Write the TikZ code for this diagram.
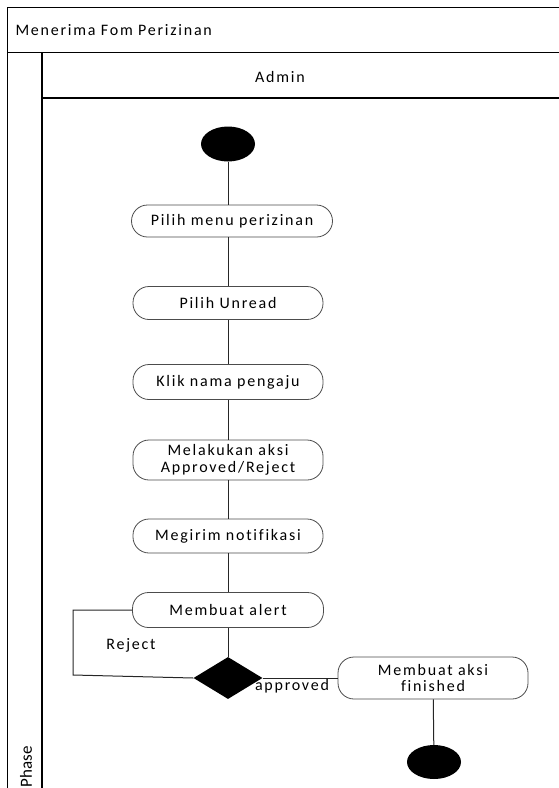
\documentclass[tikz,border=0pt]{standalone}
\usepackage{fontspec}
\setmainfont{Carlito}[LetterSpace=11,Ligatures={NoCommon,NoContextual}]
\usetikzlibrary{shapes.geometric}

\begin{document}
\begin{tikzpicture}
  [
    x=1pt, y=-1pt,
    lane/.style={line width=1.8pt,black},
    txt/.style={font=\fontsize{16}{16.5}\selectfont},
    act/.style={txt,draw=black!70,thick,fill=white,rounded corners=16pt,
      minimum width=190pt,minimum height=34pt,align=center,inner sep=2pt},
    dot/.style={ellipse,fill=black,minimum width=54pt,minimum height=35pt,inner sep=0pt},
    flow/.style={line width=1pt,black!85}
  ]
  \useasboundingbox (0,0) rectangle (559,788);
  % swimlane frame
  \draw [lane] (7.5,800) -- (7.5,7.5) -- (565,7.5);
  \draw [lane] (7.5,52.5) -- (565,52.5);
  \draw [lane] (42,52.5) -- (42,800);
  \draw [lane] (42,98) -- (565,98);
  \node [txt,anchor=west] (title) at (12,30) {Menerima Fom Perizinan};
  \node [txt] (admin) at (280,77) {Admin};
  \node [rotate=90,inner sep=1pt,font=\fontsize{17}{17}\selectfont\addfontfeature{LetterSpace=0}] (phase) at (26,767) {Phase};
  % activities
  \node [dot] (start) at (228,144) {};
  \node [act,minimum width=201pt,minimum height=32pt] (a1) at (232,221) {Pilih menu perizinan};
  \node [act,minimum height=33pt] (a2) at (228,303) {Pilih Unread};
  \node [act,minimum height=35pt] (a3) at (228,382) {Klik nama pengaju};
  \node [act,minimum height=40pt] (a4) at (228,460) {Melakukan aksi\\Approved/Reject};
  \node [act] (a5) at (228,536) {Megirim notifikasi};
  \node [act,minimum width=191pt,minimum height=35pt] (a6) at (228,610) {Membuat alert};
  \node [diamond,fill=black,minimum width=69pt,minimum height=42pt,inner sep=0pt] (dec) at (228,678) {};
  \node [act,minimum height=42pt] (fin) at (433,678) {Membuat aksi\\finished};
  \node [dot,minimum height=34pt] (end) at (434,762) {};
  % flows
  \draw [flow] (start.south) -- (start.south |- a1.north);
  \draw [flow] (a2 |- a1.south) -- (a2.north);
  \draw [flow] (a2) -- (a3);
  \draw [flow] (a3) -- (a4);
  \draw [flow] (a4) -- (a5);
  \draw [flow] (a5) -- (a6);
  \draw [flow] (a6) -- (dec);
  \coordinate (rj) at (73,675);
  \draw [flow] (a6.west) -| (rj) -- (dec.west);
  \node [txt] (lrej) at (131,645) {Reject};
  \draw [flow] (dec) -- (fin);
  \node [txt] (lapp) at (292,686) {approved};
  \draw [flow] (fin) -- (end);
\end{tikzpicture}
\end{document}
